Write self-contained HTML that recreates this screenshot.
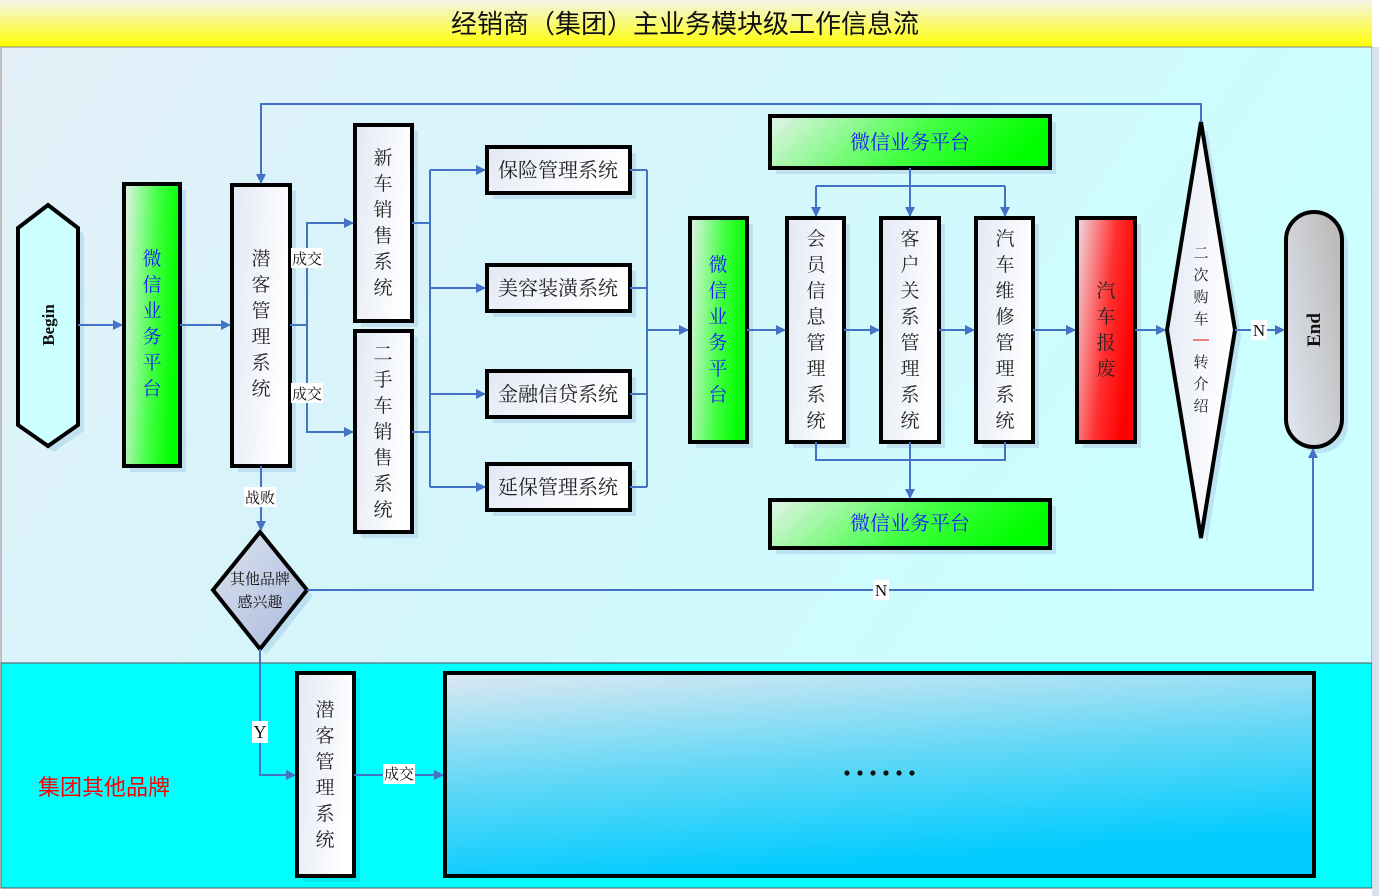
<!DOCTYPE html>
<html><head><meta charset="utf-8"><style>
html,body{margin:0;padding:0;background:#fff;}
svg{display:block;}
text{font-family:"Liberation Serif","Noto Serif CJK SC",serif;}
.s{font-family:"Liberation Sans","Noto Sans CJK SC",sans-serif;}
</style></head><body>
<svg width="1379" height="896" viewBox="0 0 1379 896" xmlns="http://www.w3.org/2000/svg">
<defs>
<linearGradient id="yel" x1="0" y1="0" x2="0" y2="1"><stop offset="0" stop-color="#f4f4e8"/><stop offset="1" stop-color="#ffff00"/></linearGradient>
<linearGradient id="main" x1="0" y1="0" x2="1" y2="0.3"><stop offset="0" stop-color="#e4eff8"/><stop offset="0.5" stop-color="#d4f6fb"/><stop offset="1" stop-color="#ccffff"/></linearGradient>
<linearGradient id="grn" x1="0" y1="0" x2="1" y2="0.2"><stop offset="0" stop-color="#e6f2ec"/><stop offset="0.6" stop-color="#40ff40"/><stop offset="1" stop-color="#00ff00"/></linearGradient>
<linearGradient id="wht" x1="0" y1="0" x2="1" y2="0.3"><stop offset="0" stop-color="#e2e8f4"/><stop offset="1" stop-color="#ffffff"/></linearGradient>
<linearGradient id="red" x1="0" y1="0" x2="1" y2="0.4"><stop offset="0" stop-color="#f0dce4"/><stop offset="0.6" stop-color="#ff3030"/><stop offset="1" stop-color="#ff0000"/></linearGradient>
<linearGradient id="gry" x1="0" y1="1" x2="1" y2="0.3"><stop offset="0" stop-color="#e2e8f2"/><stop offset="1" stop-color="#bcbcbc"/></linearGradient>
<linearGradient id="dia" x1="0" y1="0" x2="1" y2="1"><stop offset="0" stop-color="#dde3ef"/><stop offset="1" stop-color="#aabadc"/></linearGradient>
<linearGradient id="blu" x1="0" y1="0" x2="0.3" y2="1"><stop offset="0" stop-color="#dde8f2"/><stop offset="0.5" stop-color="#66d8f6"/><stop offset="1" stop-color="#00ccff"/></linearGradient>
<marker id="ar" markerWidth="10" markerHeight="10" refX="9" refY="5" orient="auto" markerUnits="userSpaceOnUse"><path d="M0,0 L10,5 L0,10 z" fill="#4472c4"/></marker>
</defs>
<rect x="0" y="0" width="1379" height="896" fill="#fff"/>
<rect x="0" y="0" width="1372" height="47" fill="url(#yel)"/>
<rect x="1" y="47" width="1371" height="616" fill="url(#main)" stroke="#888" stroke-width="1"/>
<rect x="1" y="663" width="1371" height="225" fill="#00ffff" stroke="#555" stroke-width="1"/>
<rect x="1372" y="47" width="7" height="849" fill="#d8e0ec"/>
<text class="s" x="685" y="33" font-size="26" text-anchor="middle" fill="#111">经销商（集团）主业务模块级工作信息流</text>

<g fill="#b8dcee" opacity="0.8">
<rect x="130" y="190" width="56" height="282"/><rect x="238" y="191" width="58" height="281"/>
<rect x="361" y="131" width="57" height="196"/><rect x="361" y="337" width="57" height="201"/>
<rect x="493" y="153" width="143" height="46"/><rect x="493" y="271" width="143" height="46"/>
<rect x="493" y="377" width="143" height="46"/><rect x="493" y="470" width="143" height="46"/>
<rect x="776" y="122" width="280" height="52"/><rect x="776" y="506" width="280" height="48"/>
<rect x="696" y="224" width="57" height="224"/><rect x="793" y="224" width="57" height="224"/>
<rect x="887" y="224" width="58" height="224"/><rect x="982" y="224" width="57" height="224"/>
<rect x="1083" y="224" width="58" height="224"/><rect x="1292" y="218" width="56" height="235" rx="28"/>
<polygon points="1207,128 1241,336 1207,544 1173,336"/>
<polygon points="54,211 84,234 84,431 54,452 24,431 24,234"/>
<polygon points="266,538 313,596 266,655 219,596"/>
</g>
<rect x="303" y="679" width="57" height="203" fill="#00e8f0"/>

<g stroke="#000" stroke-width="4">
<polygon points="48,205 78,228 78,425 48,446 18,425 18,228" fill="#ccffff"/>
<rect x="124" y="184" width="56" height="282" fill="url(#grn)"/>
<rect x="232" y="185" width="58" height="281" fill="url(#wht)"/>
<rect x="355" y="125" width="57" height="196" fill="url(#wht)"/>
<rect x="355" y="331" width="57" height="201" fill="url(#wht)"/>
<rect x="487" y="147" width="143" height="46" fill="url(#wht)"/>
<rect x="487" y="265" width="143" height="46" fill="url(#wht)"/>
<rect x="487" y="371" width="143" height="46" fill="url(#wht)"/>
<rect x="487" y="464" width="143" height="46" fill="url(#wht)"/>
<rect x="770" y="116" width="280" height="52" fill="url(#grn)"/>
<rect x="770" y="500" width="280" height="48" fill="url(#grn)"/>
<rect x="690" y="218" width="57" height="224" fill="url(#grn)"/>
<rect x="787" y="218" width="57" height="224" fill="url(#wht)"/>
<rect x="881" y="218" width="58" height="224" fill="url(#wht)"/>
<rect x="976" y="218" width="57" height="224" fill="url(#wht)"/>
<rect x="1077" y="218" width="58" height="224" fill="url(#red)"/>
<polygon points="1201,122 1235,330 1201,538 1167,330" fill="url(#wht)"/>
<rect x="1286" y="212" width="56" height="235" rx="28" fill="url(#gry)"/>
<polygon points="260,532 307,590 260,649 213,590" fill="url(#dia)"/>
<rect x="297" y="673" width="57" height="203" fill="url(#wht)"/>
<rect x="445" y="673" width="869" height="203" fill="url(#blu)"/>
</g>

<g stroke="#4472c4" stroke-width="2" fill="none">
<path d="M78,325 H122" marker-end="url(#ar)"/>
<path d="M180,325 H230" marker-end="url(#ar)"/>
<path d="M290,325 H307 V223 H353" marker-end="url(#ar)"/>
<path d="M307,325 V432 H353" marker-end="url(#ar)"/>
<path d="M261,466 V530" marker-end="url(#ar)"/>
<path d="M1201,122 V104 H261 V183" marker-end="url(#ar)"/>
<path d="M412,223 H430 M412,432 H430 M430,170 V487"/>
<path d="M430,170 H485" marker-end="url(#ar)"/>
<path d="M430,288 H485" marker-end="url(#ar)"/>
<path d="M430,394 H485" marker-end="url(#ar)"/>
<path d="M430,487 H485" marker-end="url(#ar)"/>
<path d="M630,170 H647 M630,288 H647 M630,394 H647 M630,487 H647 M647,170 V487"/>
<path d="M647,330 H688" marker-end="url(#ar)"/>
<path d="M747,330 H785" marker-end="url(#ar)"/>
<path d="M844,330 H879" marker-end="url(#ar)"/>
<path d="M939,330 H974" marker-end="url(#ar)"/>
<path d="M1033,330 H1075" marker-end="url(#ar)"/>
<path d="M1135,330 H1165" marker-end="url(#ar)"/>
<path d="M910,168 V186 M816,186 H1005"/>
<path d="M816,186 V216" marker-end="url(#ar)"/>
<path d="M910,186 V216" marker-end="url(#ar)"/>
<path d="M1005,186 V216" marker-end="url(#ar)"/>
<path d="M816,442 V460 H1005 V442"/>
<path d="M910,442 V498" marker-end="url(#ar)"/>
<path d="M1235,330 H1284" marker-end="url(#ar)"/>
<path d="M307,590 H1313 V449" marker-end="url(#ar)"/>
<path d="M260,649 V775 H295" marker-end="url(#ar)"/>
<path d="M354,775 H443" marker-end="url(#ar)"/>
</g>

<g fill="#fff">
<rect x="291" y="248" width="32" height="20"/><rect x="291" y="383" width="32" height="20"/>
<rect x="244" y="487" width="32" height="20"/><rect x="1251" y="320" width="16" height="20"/>
<rect x="873" y="580" width="16" height="20"/><rect x="252" y="721" width="16" height="22"/>
<rect x="383" y="764" width="32" height="20"/>
</g>
<g font-size="15" text-anchor="middle" fill="#111">
<text x="307" y="264">成交</text><text x="307" y="399">成交</text>
<text x="260" y="503">战败</text><text x="399" y="779">成交</text>
<text x="1259" y="336" font-size="17">N</text><text x="881" y="596" font-size="17">N</text>
<text x="260" y="738" font-size="18">Y</text>
<text x="260" y="584" font-size="15">其他品牌</text><text x="260" y="607" font-size="15">感兴趣</text>
</g>

<text transform="translate(54,325) rotate(-90)" font-size="17" font-weight="bold" text-anchor="middle" fill="#111">Begin</text>
<text transform="translate(1320,330) rotate(-90)" font-size="19" font-weight="bold" text-anchor="middle" fill="#111">End</text>

<g class="s" font-size="19" text-anchor="middle" fill="#222">
<g fill="#1a1aff"><text x="152" y="265">微</text><text x="152" y="291">信</text><text x="152" y="317">业</text><text x="152" y="343">务</text><text x="152" y="369">平</text><text x="152" y="395">台</text></g>
<text x="261" y="265">潜</text><text x="261" y="291">客</text><text x="261" y="317">管</text><text x="261" y="343">理</text><text x="261" y="369">系</text><text x="261" y="395">统</text>
<text x="383" y="164">新</text><text x="383" y="190">车</text><text x="383" y="216">销</text><text x="383" y="242">售</text><text x="383" y="268">系</text><text x="383" y="294">统</text>
<text x="383" y="360">二</text><text x="383" y="386">手</text><text x="383" y="412">车</text><text x="383" y="438">销</text><text x="383" y="464">售</text><text x="383" y="490">系</text><text x="383" y="516">统</text>
<g font-size="20"><text x="558" y="177">保险管理系统</text><text x="558" y="295">美容装潢系统</text>
<text x="558" y="401">金融信贷系统</text><text x="558" y="494">延保管理系统</text></g>
<g fill="#1a1aff"><text x="910" y="149" font-size="20">微信业务平台</text><text x="910" y="530" font-size="20">微信业务平台</text>
<text x="718" y="271">微</text><text x="718" y="297">信</text><text x="718" y="323">业</text><text x="718" y="349">务</text><text x="718" y="375">平</text><text x="718" y="401">台</text></g>
<text x="816" y="245">会</text><text x="816" y="271">员</text><text x="816" y="297">信</text><text x="816" y="323">息</text><text x="816" y="349">管</text><text x="816" y="375">理</text><text x="816" y="401">系</text><text x="816" y="427">统</text>
<text x="910" y="245">客</text><text x="910" y="271">户</text><text x="910" y="297">关</text><text x="910" y="323">系</text><text x="910" y="349">管</text><text x="910" y="375">理</text><text x="910" y="401">系</text><text x="910" y="427">统</text>
<text x="1005" y="245">汽</text><text x="1005" y="271">车</text><text x="1005" y="297">维</text><text x="1005" y="323">修</text><text x="1005" y="349">管</text><text x="1005" y="375">理</text><text x="1005" y="401">系</text><text x="1005" y="427">统</text>
<text x="1106" y="297">汽</text><text x="1106" y="323">车</text><text x="1106" y="349">报</text><text x="1106" y="375">废</text>
<text x="325" y="716">潜</text><text x="325" y="742">客</text><text x="325" y="768">管</text><text x="325" y="794">理</text><text x="325" y="820">系</text><text x="325" y="846">统</text>
</g>
<g font-size="15" text-anchor="middle" fill="#222">
<text x="1201" y="258">二</text><text x="1201" y="280">次</text><text x="1201" y="302">购</text><text x="1201" y="324">车</text>
<text x="1201" y="367">转</text><text x="1201" y="389">介</text><text x="1201" y="411">绍</text>
</g>
<rect x="1193" y="339" width="16" height="2" fill="#f08080"/>
<g fill="#111"><circle cx="847" cy="773" r="2.6"/><circle cx="860" cy="773" r="2.6"/><circle cx="873" cy="773" r="2.6"/><circle cx="886" cy="773" r="2.6"/><circle cx="899" cy="773" r="2.6"/><circle cx="912" cy="773" r="2.6"/></g>
<text class="s" x="104" y="795" font-size="22" text-anchor="middle" fill="#ff0000">集团其他品牌</text>
</svg>
</body></html>
